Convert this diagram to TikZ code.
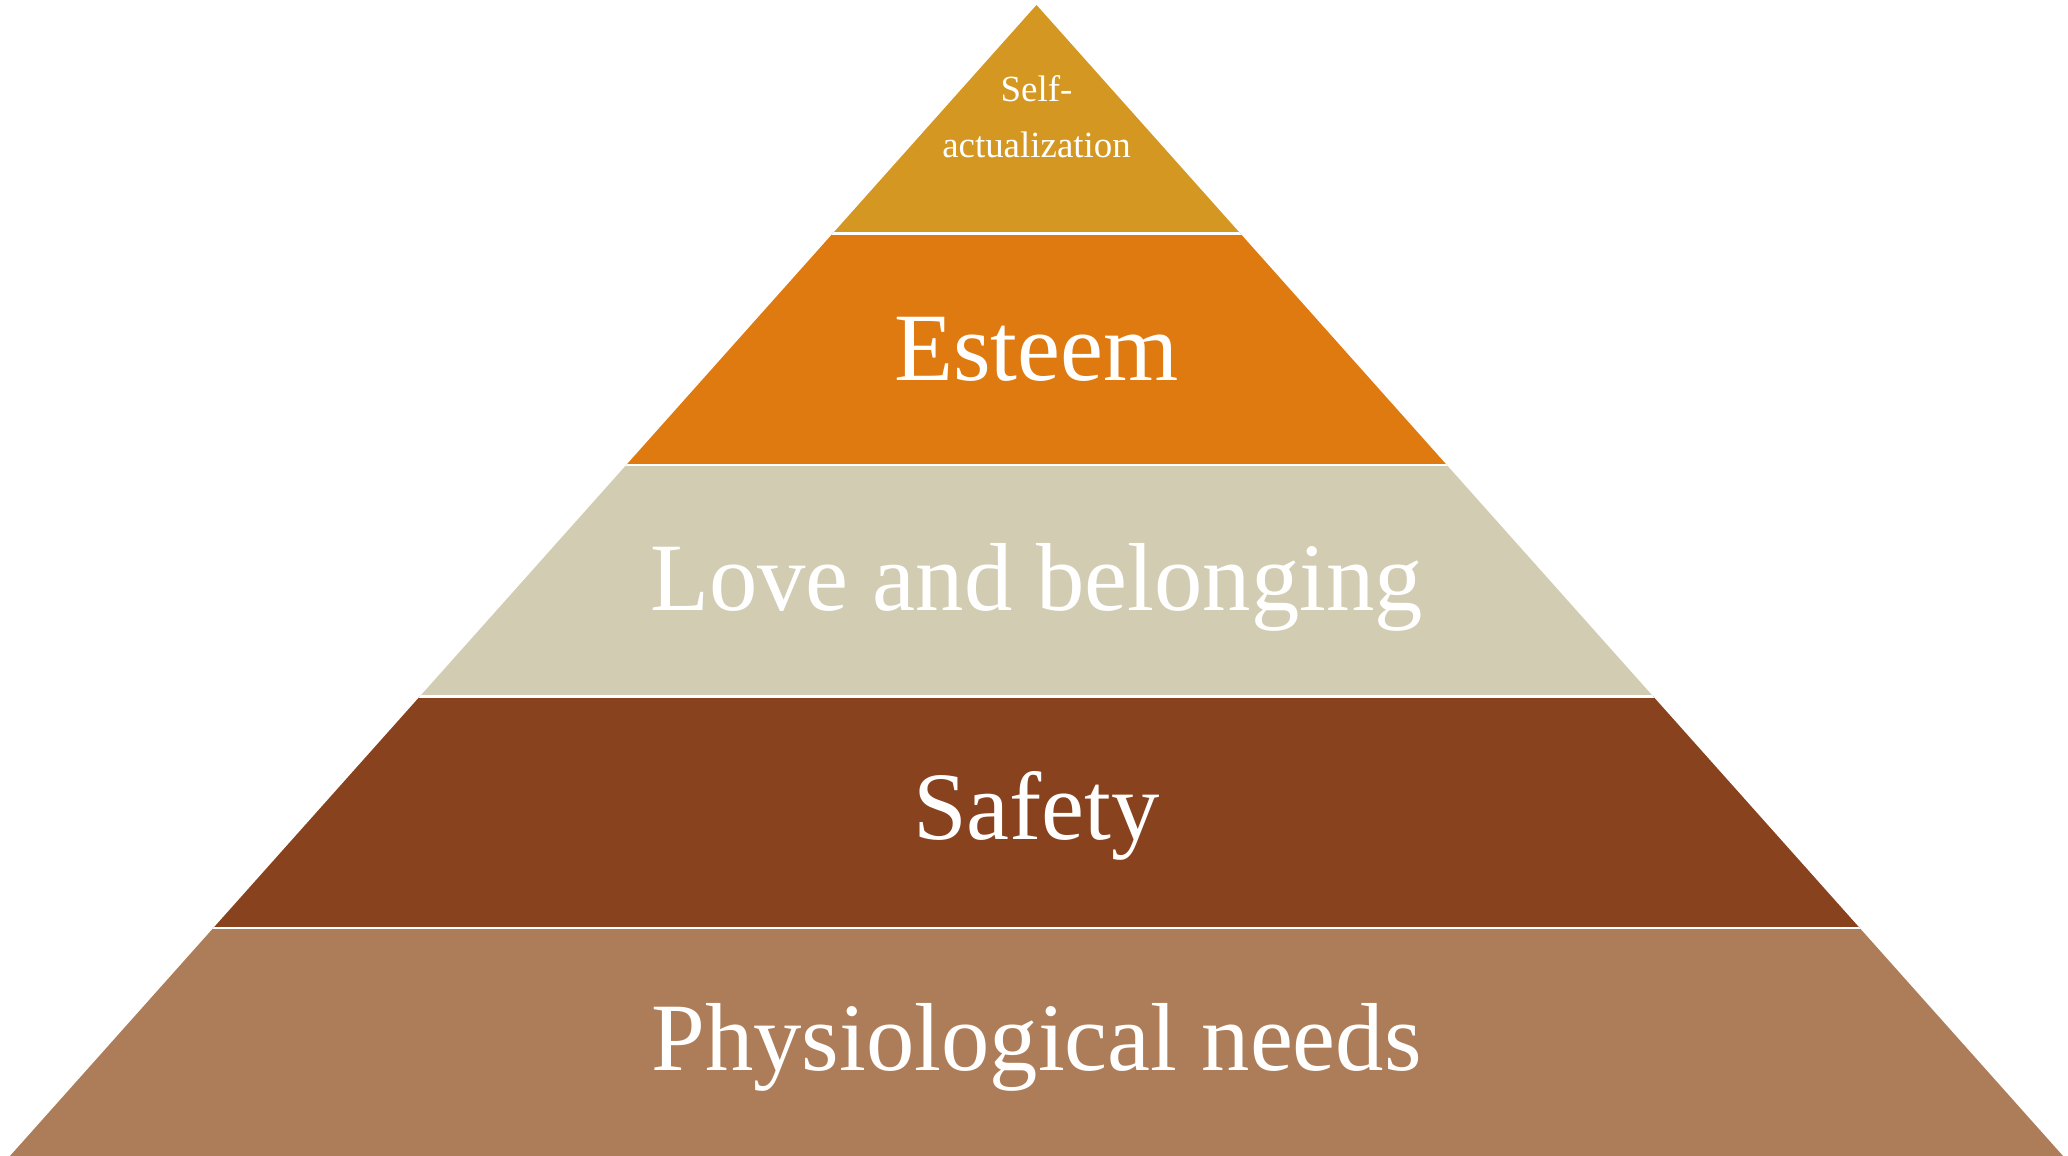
\documentclass[tikz,border=0pt]{standalone}
\usepackage{fontspec}
\setmainfont{Liberation Serif}
\definecolor{selfcol}{RGB}{212,152,34}
\definecolor{esteemcol}{RGB}{223,122,16}
\definecolor{lovecol}{RGB}{210,204,178}
\definecolor{safecol}{RGB}{136,66,30}
\definecolor{physcol}{RGB}{173,125,89}

\begin{document}
\begin{tikzpicture}
\tikzset{level/.style={text=white,anchor=base,inner sep=0pt,font=\fontsize{27.5}{33}\selectfont},
small/.style={text=white,anchor=base,inner sep=0pt,align=center,font=\fontsize{10.5}{16}\selectfont}}
\useasboundingbox (0,0) rectangle (20.68,11.56);

\coordinate (apex) at (10.365,11.51);
\coordinate (bl) at (0.10,0);
\coordinate (br) at (20.63,0);

% the bands, cut to the triangle
\begin{scope}
\clip (apex) -- (bl) -- (br) -- cycle;
\fill[physcol] (0,0) rectangle (20.68,2.28);
\fill[safecol] (0,2.28) rectangle (20.68,4.595);
\fill[lovecol] (0,4.595) rectangle (20.68,6.91);
\fill[esteemcol] (0,6.91) rectangle (20.68,9.225);
\fill[selfcol] (0,9.225) rectangle (20.68,11.56);
\foreach \y in {2.28,4.595,6.91,9.225}
  \draw[white,line width=0.025cm] (0,\y) -- (20.68,\y);
\end{scope}

% base anchor sits on the last line here
\node[small] (self) at (10.365,9.98) {Self-\\actualization};
\node[level] (esteem) at (10.365,7.75) {Esteem};
\node[level] (love) at (10.365,5.45) {Love and belonging};
\node[level] (safety) at (10.365,3.16) {Safety};
\node[level] (phys) at (10.365,0.85) {Physiological needs};

\end{tikzpicture}
\end{document}
